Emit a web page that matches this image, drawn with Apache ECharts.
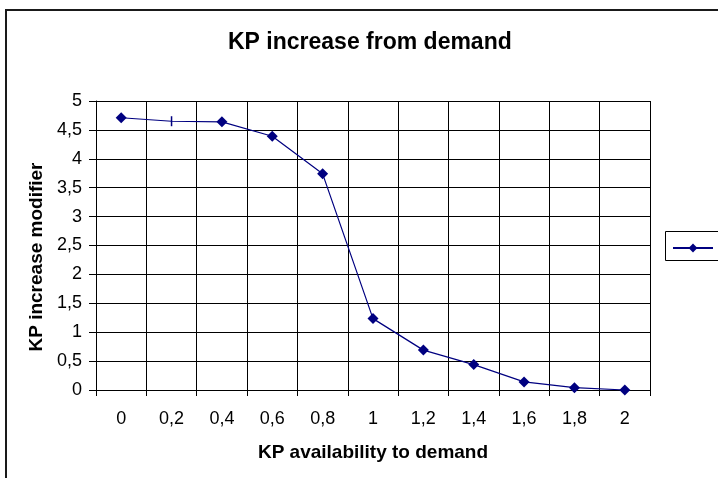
<!DOCTYPE html>
<html>
<head>
<meta charset="utf-8">
<script src="https://cdn.jsdelivr.net/npm/echarts@6/dist/echarts.min.js"></script>
<style>
  html, body { margin: 0; padding: 0; background: #fff; }
  #chart { width: 718px; height: 478px; }
</style>
</head>
<body>
<div id="chart"></div>
<script>
// Ratio of KP availability to demand (category axis)
const availability = ['0', '0,2', '0,4', '0,6', '0,8', '1', '1,2', '1,4', '1,6', '1,8', '2'];
// KP increase modifier at each ratio
const modifier = [4.71, 4.65, 4.64, 4.39, 3.74, 1.235, 0.69, 0.44, 0.14, 0.04, 0];
// Value axis tick labels, 0 to 5 in steps of 0.5
const yTickLabels = ['0', '0,5', '1', '1,5', '2', '2,5', '3', '3,5', '4', '4,5', '5'];

const FONT = '"Liberation Sans", Arial, sans-serif';
const NAVY = '#000080';

// The second point is drawn with a short vertical dash instead of a diamond
const seriesData = modifier.map((v, i) => i === 1
  ? { value: v, symbol: 'rect', symbolSize: [1.5, 10] }
  : v);

const chart = echarts.init(document.getElementById('chart'), null, { renderer: 'canvas' });

chart.setOption({
  animation: false,
  backgroundColor: '#fff',
  title: {
    text: 'KP increase from demand',
    left: 228,
    top: 31,
    padding: 0,
    textStyle: { fontFamily: FONT, fontSize: 23, fontWeight: 'bold', color: '#000' }
  },
  legend: {
    left: 672,
    top: 242.5,
    padding: 0,
    itemWidth: 40,
    itemHeight: 11,
    formatter: () => '',
    textStyle: { fontFamily: FONT, fontSize: 18 },
    data: ['KP increase modifier']
  },
  grid: { left: 96, top: 101, right: 68, bottom: 88, containLabel: false },
  xAxis: {
    type: 'category',
    data: availability,
    boundaryGap: true,
    name: 'KP availability to demand',
    nameLocation: 'middle',
    nameGap: 53,
    nameTextStyle: { fontFamily: FONT, fontSize: 19, fontWeight: 'bold', color: '#000' },
    axisLine: { lineStyle: { color: '#000', width: 1 } },
    axisTick: { show: true, length: 6, lineStyle: { color: '#000' } },
    axisLabel: { fontFamily: FONT, fontSize: 18, color: '#000', margin: 20 },
    splitLine: { show: true, lineStyle: { color: '#000', width: 1 } }
  },
  yAxis: {
    type: 'value',
    min: 0,
    max: 5,
    interval: 0.5,
    axisLine: { show: true, lineStyle: { color: '#000', width: 1 } },
    axisTick: { show: true, length: 7, lineStyle: { color: '#000' } },
    axisLabel: {
      fontFamily: FONT, fontSize: 18, color: '#000', margin: 14,
      formatter: v => yTickLabels[Math.round(v / 0.5)]
    },
    splitLine: { show: true, lineStyle: { color: '#000', width: 1 } }
  },
  series: [{
    name: 'KP increase modifier',
    type: 'line',
    data: seriesData,
    symbol: 'diamond',
    symbolSize: 11,
    showSymbol: true,
    lineStyle: { color: NAVY, width: 1.2 },
    itemStyle: { color: NAVY },
    emphasis: { disabled: true }
  }],
  graphic: [
    // outer chart frame, running past the right and bottom edges
    {
      type: 'rect',
      shape: { x: 6, y: 10, width: 900, height: 700 },
      style: { fill: 'none', stroke: '#1a1a1a', lineWidth: 2 },
      silent: true, z: 100
    },
    // legend frame
    {
      type: 'rect',
      shape: { x: 665.5, y: 231.5, width: 120, height: 29 },
      style: { fill: 'none', stroke: '#000', lineWidth: 1 },
      silent: true, z: 100
    },
    // value axis title
    {
      type: 'text',
      x: 37,
      y: 257,
      rotation: Math.PI / 2,
      style: {
        text: 'KP increase modifier',
        font: 'bold 19px ' + FONT,
        fill: '#000',
        align: 'center',
        verticalAlign: 'middle'
      },
      silent: true
    }
  ]
});
</script>
</body>
</html>
